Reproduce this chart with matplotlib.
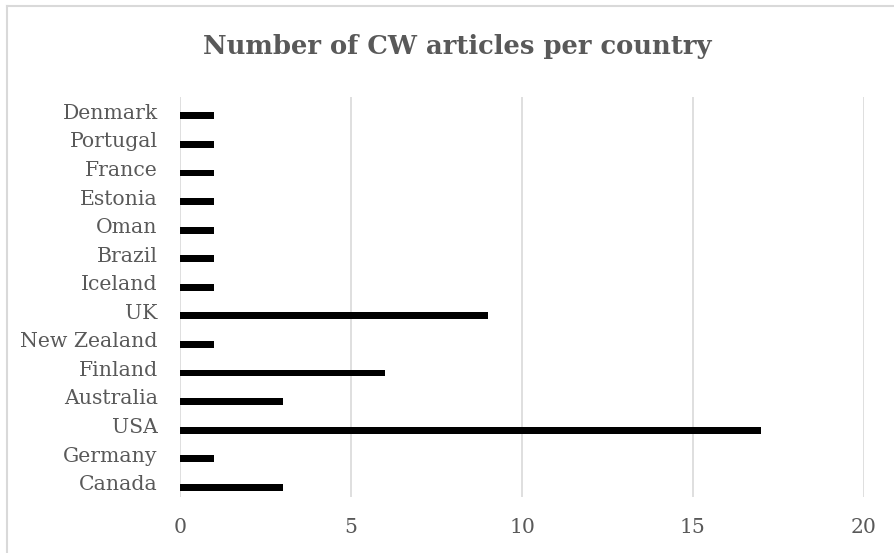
import numpy as np
import matplotlib.pyplot as plt
from matplotlib.lines import Line2D

# data (bottom to top, as drawn)
countries = ['Canada', 'Germany', 'USA', 'Australia', 'Finland', 'New Zealand', 'UK',
             'Iceland', 'Brazil', 'Oman', 'Estonia', 'France', 'Portugal', 'Denmark']
articles = [3, 1, 17, 3, 6, 1, 9, 1, 1, 1, 1, 1, 1, 1]
xticks = [0, 5, 10, 15, 20]

grey = '#595959'
light = '#d9d9d9'

fig = plt.figure(figsize=(8.94, 5.53), dpi=100)
ax = fig.add_axes([180/894, 1-497/553, (864-180)/894, 400/553])

pos = np.arange(len(countries))
ax.barh(pos - 0.16, articles, height=0.24, color='black', zorder=3)

ax.set_xlim(0, 20)
ax.set_ylim(-0.5, len(countries) - 0.5)
ax.set_xticks(xticks)
ax.set_yticks(pos)
ax.set_yticklabels(countries)
ax.tick_params(length=0, labelsize=14.7, labelcolor=grey, pad=16)
ax.tick_params(axis='x', pad=15)
for lab in ax.get_xticklabels() + ax.get_yticklabels():
    lab.set_family('DejaVu Serif')
ax.grid(axis='x', color=light, linewidth=1.2, zorder=0)
for s in ax.spines.values():
    s.set_visible(False)

fig.text(0.511, 1-47/553, 'Number of CW articles per country', ha='center', va='center',
         fontsize=18.6, fontweight='bold', color=grey, family='DejaVu Serif')

# chart border (top and left edges visible)
fig.add_artist(Line2D([7/894, 1], [1-6/553, 1-6/553], color=light, lw=1.5))
fig.add_artist(Line2D([7/894, 7/894], [0, 1-6/553], color=light, lw=1.5))

fig.savefig('out.png', dpi=100)
